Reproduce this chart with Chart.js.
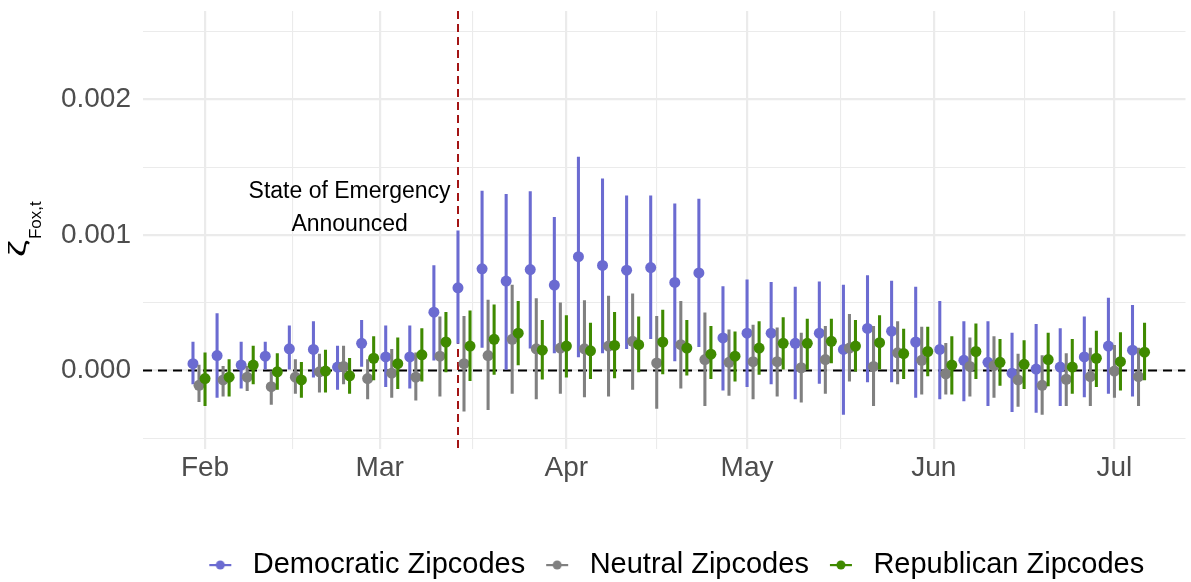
<!DOCTYPE html>
<html>
<head>
<meta charset="utf-8">
<script src="https://cdn.jsdelivr.net/npm/chart.js@4.4.1/dist/chart.umd.min.js"></script>
<style>
  html, body { margin: 0; padding: 0; background: #fff; }
</style>
</head>
<body>
<canvas id="chart" width="1191" height="582"></canvas>
<script>
// 4-day bins (bin centre dates)
const binDates = [
  '2020-01-31','2020-02-04','2020-02-08','2020-02-12','2020-02-16','2020-02-20','2020-02-24','2020-02-28',
  '2020-03-03','2020-03-07','2020-03-11','2020-03-15','2020-03-19','2020-03-23','2020-03-27','2020-03-31',
  '2020-04-04','2020-04-08','2020-04-12','2020-04-16','2020-04-20','2020-04-24','2020-04-28','2020-05-02',
  '2020-05-06','2020-05-10','2020-05-14','2020-05-18','2020-05-22','2020-05-26','2020-05-30','2020-06-03',
  '2020-06-07','2020-06-11','2020-06-15','2020-06-19','2020-06-23','2020-06-27','2020-07-01','2020-07-05'
];

const demEst = [0.00005,0.00011,0.00004,0.000105,0.00016,0.000155,0.000025,0.0002,0.0001,0.0001,
  0.00043,0.00061,0.00075,0.00066,0.000745,0.00063,0.00084,0.000775,0.00074,0.00076,
  0.00065,0.00072,0.00024,0.000275,0.000275,0.0002,0.000275,0.000155,0.00031,0.00029,
  0.00021,0.000155,0.000075,0.00006,-0.00002,0.00001,0.000025,0.0001,0.00018,0.00015];
const demLo = [-0.0001,-0.0002,-0.00013,0.00001,0.00001,-0.00005,-0.00014,0.00003,-0.00012,-0.00013,
  0.000075,0.0002,0.00017,0.0,0.000165,0.00013,0.0001,0.00013,0.00016,0.000235,
  0.00007,0.000175,-0.000145,-0.00012,-0.0001,-0.00021,-0.000095,-0.000325,-0.000085,-0.000085,
  -0.0002,-0.00021,-0.000225,-0.00026,-0.000305,-0.00031,-0.00026,-0.000195,-0.00017,-0.00019];
const demHi = [0.00021,0.00042,0.00021,0.00021,0.00033,0.00036,0.00018,0.00037,0.00033,0.00033,
  0.000775,0.00103,0.001325,0.0013,0.00132,0.00113,0.001575,0.001415,0.00129,0.00129,
  0.00123,0.001265,0.00062,0.00067,0.00065,0.000615,0.000655,0.00063,0.0007,0.00066,
  0.000615,0.00051,0.00036,0.00036,0.000275,0.00034,0.00031,0.000395,0.000535,0.00048];

const neuEst = [-0.00011,-0.00007,-0.00005,-0.00012,-0.00005,-0.00001,0.00003,-0.00006,-0.00002,-0.00005,
  0.000105,0.00005,0.00011,0.00023,0.00016,0.000165,0.00016,0.00018,0.000215,0.000055,
  0.00019,0.00008,0.00006,0.000065,0.000065,0.00002,0.00008,0.000165,0.00003,0.00013,
  0.000075,-0.000025,0.00003,0.000035,-0.00007,-0.00011,-0.000065,-0.000045,-0.000005,-0.000045];
const neuLo = [-0.00023,-0.00019,-0.00015,-0.00025,-0.00017,-0.00016,-0.0001,-0.00021,-0.0002,-0.00022,
  -0.00019,-0.0003,-0.00029,-0.00017,-0.00021,-0.00017,-0.000195,-0.00019,-0.00014,-0.00028,
  -0.00013,-0.00026,-0.000185,-0.00021,-0.00019,-0.000235,-0.00017,-0.00008,-0.00026,-0.0001,
  -0.000175,-0.000175,-0.00019,-0.0002,-0.000265,-0.000325,-0.00026,-0.00026,-0.0002,-0.00026];
const neuHi = [0.00004,0.00003,0.00003,-0.000005,0.00008,0.00012,0.00018,0.00008,0.000155,0.00013,
  0.000395,0.0004,0.00052,0.00063,0.00053,0.0005,0.000515,0.00055,0.000565,0.0004,
  0.00051,0.000425,0.0003,0.000335,0.000315,0.000275,0.000325,0.000415,0.000325,0.00036,
  0.00032,0.0002,0.00024,0.00025,0.00012,0.00011,0.000125,0.000165,0.000185,0.000165];

const repEst = [-0.00006,-0.00005,0.00004,-0.00001,-0.00007,-0.000005,-0.00004,0.00009,0.00005,0.000115,
  0.00021,0.00018,0.00023,0.000275,0.00015,0.00018,0.000145,0.000185,0.00019,0.00021,
  0.000165,0.00012,0.000105,0.000165,0.0002,0.0002,0.000215,0.00018,0.000205,0.000125,
  0.00014,0.00004,0.00014,0.00006,0.000045,0.00008,0.000025,0.00009,0.000065,0.000135];
const repLo = [-0.00026,-0.00019,-0.0001,-0.00014,-0.0002,-0.00016,-0.00017,-0.00007,-0.000135,-0.00008,
  -0.00001,-0.000075,-0.00003,0.00004,-0.000065,-0.00005,-0.00006,-0.000055,-0.00001,-0.000025,
  -0.000035,-0.00006,-0.00008,-0.00003,0.00001,0.0,0.000055,-0.000005,0.00001,-0.00006,
  -0.00004,-0.000175,-0.00006,-0.00011,-0.000135,-0.000115,-0.00017,-0.00012,-0.000145,-0.00007];
const repHi = [0.00013,0.00008,0.00018,0.000125,0.00006,0.00015,0.00009,0.00025,0.00024,0.00031,
  0.00043,0.00044,0.000485,0.00051,0.00037,0.000405,0.00035,0.00043,0.000395,0.000445,
  0.00037,0.000325,0.000285,0.00036,0.00039,0.00038,0.00038,0.00037,0.000405,0.000305,
  0.00032,0.00025,0.000345,0.00023,0.00022,0.000275,0.00023,0.00029,0.00028,0.00035];

const monthTicks = ['2020-02-01','2020-03-01','2020-04-01','2020-05-01','2020-06-01','2020-07-01'];
const monthLabels = ['Feb','Mar','Apr','May','Jun','Jul'];
const yTicks = [-0.0005, 0, 0.0005, 0.001, 0.0015, 0.002, 0.0025];
const yLabelled = [0, 0.001, 0.002];

const emergencyDate = '2020-03-14';
const noteDate = '2020-02-25';
const noteValue = 0.0012;
const noteLines = ['State of Emergency', 'Announced'];

const DEM = '#6b6bd1', NEU = '#808080', REP = '#3f8a00';
const FONT = "'Liberation Sans', Arial, sans-serif";

const dayOf = s => (Date.parse(s) - Date.parse('2020-02-01')) / 864e5;
const binX = binDates.map(dayOf);
const dodge = 1;

const series = [
  { name: 'Democratic Zipcodes', color: DEM, est: demEst, lo: demLo, hi: demHi, off: -dodge },
  { name: 'Neutral Zipcodes',    color: NEU, est: neuEst, lo: neuLo, hi: neuHi, off: 0 },
  { name: 'Republican Zipcodes', color: REP, est: repEst, lo: repLo, hi: repHi, off: dodge }
];

const datasets = [];
series.forEach((s, k) => {
  datasets.push({
    type: 'bar', label: s.name + ' CI', grouped: false,
    data: binX.map((x, i) => ({ x: x + s.off, y: [s.lo[i], s.hi[i]] })),
    backgroundColor: s.color, borderWidth: 0, barThickness: 2.4, order: 10 - 3 * k
  });
  datasets.push({
    type: 'scatter', label: s.name,
    data: binX.map((x, i) => ({ x: x + s.off, y: s.est[i] })),
    backgroundColor: s.color, borderWidth: 0, pointRadius: 5.5, pointHoverRadius: 5.5, order: 9 - 3 * k
  });
});

function keyIcon(color){
  const c = document.createElement('canvas');
  c.width = 24; c.height = 12;
  const g = c.getContext('2d');
  g.fillStyle = color;
  g.fillRect(1, 5, 22, 2.2);
  g.beginPath(); g.arc(12, 6, 4.5, 0, Math.PI * 2); g.fill();
  return c;
}

const refLines = {
  id: 'refLines',
  afterLayout(chart){
    // nudge legend to sit under the panel like the original
    chart.legend.left += 9; chart.legend.right += 9;
  },
  beforeDatasetsDraw(chart){
    const { ctx, chartArea: a, scales: { x, y } } = chart;
    ctx.save();
    ctx.beginPath(); ctx.rect(a.left, a.top, a.width, a.height); ctx.clip();
    const y0 = y.getPixelForValue(0);
    ctx.setLineDash([9, 6]); ctx.lineWidth = 2; ctx.strokeStyle = '#000';
    ctx.beginPath(); ctx.moveTo(a.left, y0); ctx.lineTo(a.right, y0); ctx.stroke();
    const xe = x.getPixelForValue(dayOf(emergencyDate));
    ctx.setLineDash([8, 5]); ctx.strokeStyle = '#a31515';
    ctx.beginPath(); ctx.moveTo(xe, a.top); ctx.lineTo(xe, a.bottom); ctx.stroke();
    ctx.restore();
  },
  afterDatasetsDraw(chart){
    const { ctx, scales: { x, y } } = chart;
    const cx = x.getPixelForValue(dayOf(noteDate)), cy = y.getPixelForValue(noteValue);
    ctx.save();
    ctx.font = '23px ' + FONT; ctx.fillStyle = '#000';
    ctx.textAlign = 'center'; ctx.textBaseline = 'middle';
    ctx.fillText(noteLines[0], cx, cy - 16.5);
    ctx.fillText(noteLines[1], cx, cy + 16.5);
    ctx.restore();
  },
  afterDraw(chart){
    // y title: zeta with subscript Fox,t, rotated
    const { ctx, chartArea: a } = chart;
    ctx.save();
    ctx.translate(0, (a.top + a.bottom) / 2 + 27);
    ctx.rotate(-Math.PI / 2);
    ctx.fillStyle = '#000'; ctx.textBaseline = 'alphabetic';
    ctx.save();
    ctx.scale(1.6, 1);
    ctx.font = '24px ' + FONT;
    const w1 = ctx.measureText('ζ').width * 1.6;
    ctx.fillText('ζ', 0, 26);
    ctx.restore();
    ctx.font = '17px ' + FONT;
    ctx.fillText('Fox,t', w1 + 1, 41);
    ctx.restore();
  }
};

const xMajor = monthTicks.map(dayOf);
const xMinor = xMajor.slice(1).map((v, i) => (v + xMajor[i]) / 2);

new Chart(document.getElementById('chart'), {
  data: { datasets },
  options: {
    responsive: false, animation: false,
    layout: { padding: { top: 11, right: 1, left: 0, bottom: -7.5 } },
    plugins: {
      tooltip: { enabled: false },
      legend: {
        position: 'bottom', fullSize: false,
        labels: {
          usePointStyle: true, pointStyleWidth: 36, padding: 14, color: '#000',
          font: { family: FONT, size: 29 },
          generateLabels: () => series.map(s => ({
            text: s.name, pointStyle: keyIcon(s.color), fillStyle: s.color,
            strokeStyle: s.color, lineWidth: 0, hidden: false, fontColor: '#000'
          }))
        }
      }
    },
    scales: {
      x: {
        type: 'linear', min: -10.3, max: 162.8, offset: false,
        afterBuildTicks: s => { s.ticks = xMajor.concat(xMinor).sort((a, b) => a - b).map(v => ({ value: v })); },
        afterFit: s => { s.height = 87.5; s.paddingLeft = 0; s.paddingRight = 0; },
        grid: { offset: false, drawTicks: false, color: '#ebebeb',
          lineWidth: c => (c.tick && xMajor.includes(c.tick.value)) ? 2.2 : 1.1 },
        border: { display: false },
        ticks: { autoSkip: false, maxRotation: 0, padding: 2, color: '#4d4d4d',
          font: { family: FONT, size: 28 },
          callback: v => { const i = xMajor.indexOf(v); return i >= 0 ? monthLabels[i] : ''; } }
      },
      y: {
        type: 'linear', min: -0.00058, max: 0.002654,
        afterBuildTicks: s => { s.ticks = yTicks.map(v => ({ value: v })); },
        afterFit: s => { s.width = 143; s.paddingTop = 0; s.paddingBottom = 0; },
        grid: { drawTicks: false, color: '#ebebeb',
          lineWidth: c => (c.tick && yLabelled.includes(c.tick.value)) ? 2.2 : 1.1 },
        border: { display: false },
        ticks: { padding: 12, color: '#4d4d4d', font: { family: FONT, size: 28 },
          callback: v => yLabelled.includes(v) ? v.toFixed(3) : '' }
      }
    }
  },
  plugins: [refLines]
});
</script>
</body>
</html>
